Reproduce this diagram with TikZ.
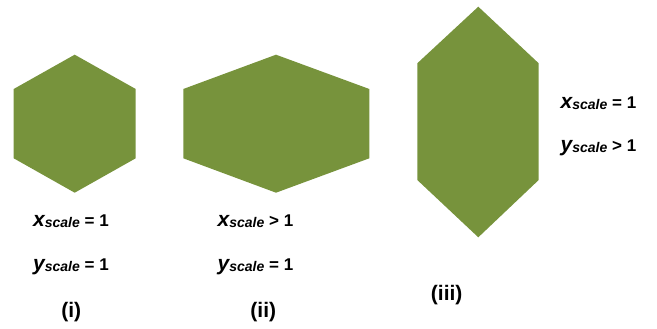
\documentclass[tikz,border=0pt]{standalone}
\usepackage{fontspec}
\setmainfont{Liberation Sans}
\definecolor{olive}{RGB}{119,147,60}
\newcommand{\scl}[2]{{\fontsize{21}{24}\selectfont\itshape #1}\raisebox{-1pt}{\fontsize{14}{16}\selectfont\itshape scale}\fontsize{17}{20}\selectfont\ #2}
\begin{document}
\begin{tikzpicture}[x=1pt,y=-1pt,
  hexa/.style={fill=olive,draw=none},
  eqn/.style={font=\bfseries,inner sep=0pt,anchor=base west},
  lab/.style={font=\bfseries\fontsize{21}{24}\selectfont,inner sep=0pt}]
\useasboundingbox (0,0) rectangle (657,329);
% (i)
\fill[hexa] (74.7,54.7) -- (135.7,89) -- (135.7,158.3) -- (74.7,192.7) -- (13.7,158.3) -- (13.7,89) -- cycle;
% (ii)
\fill[hexa] (276,54.7) -- (369.3,89) -- (369.3,158.3) -- (276,192.7) -- (183.3,158.3) -- (183.3,89) -- cycle;
% (iii)
\fill[hexa] (478.3,6.7) -- (538.7,63.3) -- (538.7,180) -- (478.3,237.3) -- (417.3,180) -- (417.3,63.3) -- cycle;
% labels
\node[eqn] (e1x) at (33,226.7) {\scl{x}{= 1}};
\node[eqn] (e1y) at (33,270.7) {\scl{y}{= 1}};
\node[eqn] (e2x) at (217.5,226.7) {\scl{x}{> 1}};
\node[eqn] (e2y) at (217.5,270.7) {\scl{y}{= 1}};
\node[eqn] (e3x) at (560.5,108.3) {\scl{x}{= 1}};
\node[eqn] (e3y) at (560.5,151.7) {\scl{y}{> 1}};
\node[lab] (l1) at (71.2,311.7) {(i)};
\node[lab] (l2) at (263.3,311.7) {(ii)};
\node[lab] (l3) at (446.7,295) {(iii)};
\end{tikzpicture}
\end{document}
